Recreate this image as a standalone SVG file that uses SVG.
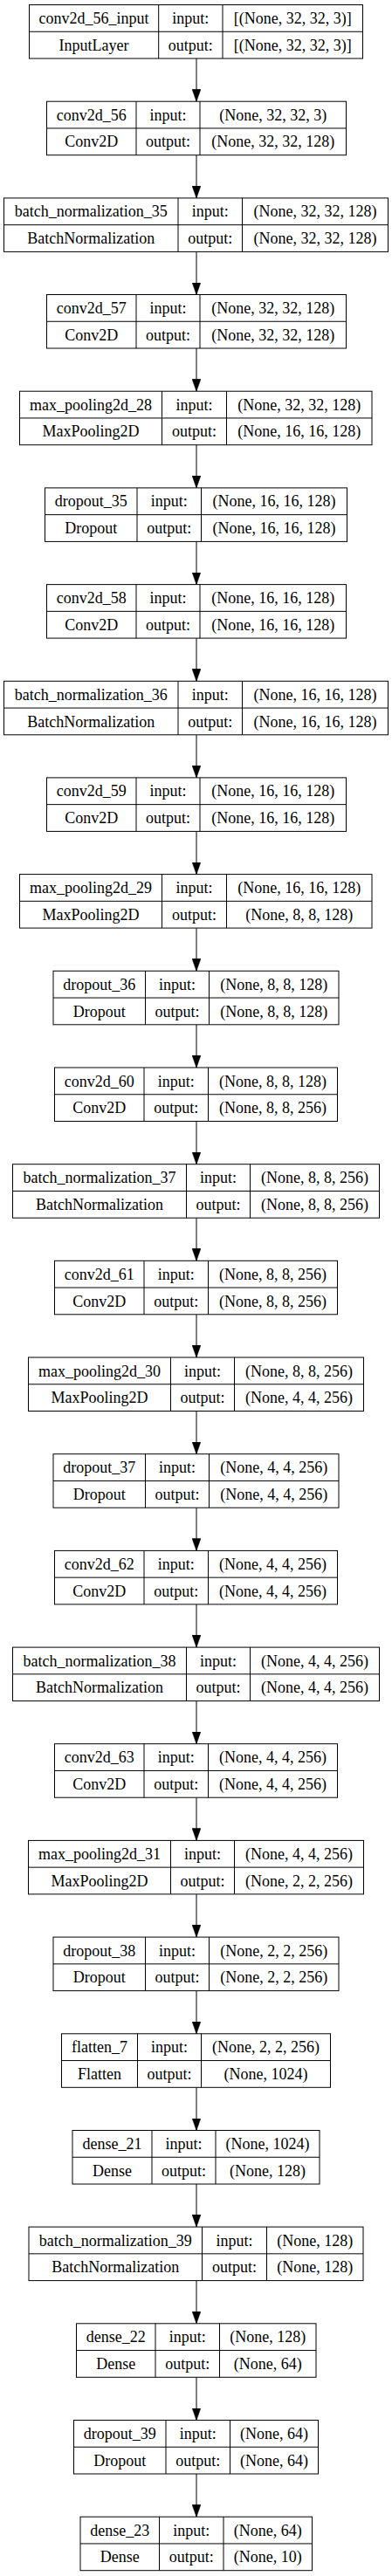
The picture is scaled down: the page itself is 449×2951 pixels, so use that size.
<svg xmlns="http://www.w3.org/2000/svg" width="449" height="2951" viewBox="0 0 449 2951">
<style>
.n rect{fill:#fff;stroke:#000;stroke-width:1}
.n path{fill:none;stroke:#000;stroke-width:1}
.n text{font-family:"Liberation Serif","Times New Roman",serif;font-size:18px;text-anchor:middle;fill:#000}
#edges path{fill:none;stroke:#000;stroke-width:1}
</style>
<defs>
<marker id="ah" markerUnits="userSpaceOnUse" markerWidth="14" markerHeight="10" viewBox="0 0 13.3 9.4" refX="13.3" refY="4.7" orient="auto"><path d="M0 0L13.3 4.7L0 9.4z" fill="#000" stroke="#000" stroke-width="0.5"/></marker>
</defs>
<rect width="449" height="2951" fill="#fff"/>
<g id="edges">
<path d="M225 67V116.2" marker-end="url(#ah)"/>
<path d="M225 177.7V226.9" marker-end="url(#ah)"/>
<path d="M225 288.4V337.5" marker-end="url(#ah)"/>
<path d="M225 399V448.2" marker-end="url(#ah)"/>
<path d="M225 509.7V558.9" marker-end="url(#ah)"/>
<path d="M225 620.4V669.6" marker-end="url(#ah)"/>
<path d="M225 731.1V780.3" marker-end="url(#ah)"/>
<path d="M225 841.8V890.9" marker-end="url(#ah)"/>
<path d="M225 952.4V1001.6" marker-end="url(#ah)"/>
<path d="M225 1063.1V1112.3" marker-end="url(#ah)"/>
<path d="M225 1173.8V1223" marker-end="url(#ah)"/>
<path d="M225 1284.5V1333.7" marker-end="url(#ah)"/>
<path d="M225 1395.2V1444.3" marker-end="url(#ah)"/>
<path d="M225 1505.8V1555" marker-end="url(#ah)"/>
<path d="M225 1616.5V1665.7" marker-end="url(#ah)"/>
<path d="M225 1727.2V1776.4" marker-end="url(#ah)"/>
<path d="M225 1837.9V1887.1" marker-end="url(#ah)"/>
<path d="M225 1948.6V1997.7" marker-end="url(#ah)"/>
<path d="M225 2059.2V2108.4" marker-end="url(#ah)"/>
<path d="M225 2169.9V2219.1" marker-end="url(#ah)"/>
<path d="M225 2280.6V2329.8" marker-end="url(#ah)"/>
<path d="M225 2391.3V2440.5" marker-end="url(#ah)"/>
<path d="M225 2502V2551.1" marker-end="url(#ah)"/>
<path d="M225 2612.6V2661.8" marker-end="url(#ah)"/>
<path d="M225 2723.3V2772.5" marker-end="url(#ah)"/>
<path d="M225 2834V2883.2" marker-end="url(#ah)"/>
</g>

<g id="conv2d_56_input" class="n" transform="translate(0,5.5)"><rect x="33.5" y="0" width="382" height="61.5"/><path d="M33.5 30.75H415.5M181.7 0V61.5M255 0V61.5"/><text x="107.6" y="21.5">conv2d_56_input</text><text x="107.6" y="52.3">InputLayer</text><text x="218.35" y="21.5">input:</text><text x="218.35" y="52.3">output:</text><text x="335.25" y="21.5">[(None, 32, 32, 3)]</text><text x="335.25" y="52.3">[(None, 32, 32, 3)]</text></g>

<g id="conv2d_56" class="n" transform="translate(0,116.2)"><rect x="53.5" y="0" width="343" height="61.5"/><path d="M53.5 30.75H396.5M156 0V61.5M229 0V61.5"/><text x="104.75" y="21.5">conv2d_56</text><text x="104.75" y="52.3">Conv2D</text><text x="192.5" y="21.5">input:</text><text x="192.5" y="52.3">output:</text><text x="312.75" y="21.5">(None, 32, 32, 3)</text><text x="312.75" y="52.3">(None, 32, 32, 128)</text></g>

<g id="batch_normalization_35" class="n" transform="translate(0,226.9)"><rect x="4.5" y="0" width="440" height="61.5"/><path d="M4.5 30.75H444.5M204 0V61.5M277.5 0V61.5"/><text x="104.25" y="21.5">batch_normalization_35</text><text x="104.25" y="52.3">BatchNormalization</text><text x="240.75" y="21.5">input:</text><text x="240.75" y="52.3">output:</text><text x="361" y="21.5">(None, 32, 32, 128)</text><text x="361" y="52.3">(None, 32, 32, 128)</text></g>

<g id="conv2d_57" class="n" transform="translate(0,337.5)"><rect x="53.5" y="0" width="343" height="61.5"/><path d="M53.5 30.75H396.5M156 0V61.5M229 0V61.5"/><text x="104.75" y="21.5">conv2d_57</text><text x="104.75" y="52.3">Conv2D</text><text x="192.5" y="21.5">input:</text><text x="192.5" y="52.3">output:</text><text x="312.75" y="21.5">(None, 32, 32, 128)</text><text x="312.75" y="52.3">(None, 32, 32, 128)</text></g>

<g id="max_pooling2d_28" class="n" transform="translate(0,448.2)"><rect x="22.5" y="0" width="403.5" height="61.5"/><path d="M22.5 30.75H426M185.5 0V61.5M259.5 0V61.5"/><text x="104" y="21.5">max_pooling2d_28</text><text x="104" y="52.3">MaxPooling2D</text><text x="222.5" y="21.5">input:</text><text x="222.5" y="52.3">output:</text><text x="342.75" y="21.5">(None, 32, 32, 128)</text><text x="342.75" y="52.3">(None, 16, 16, 128)</text></g>

<g id="dropout_35" class="n" transform="translate(0,558.9)"><rect x="51.5" y="0" width="346" height="61.5"/><path d="M51.5 30.75H397.5M157 0V61.5M230.5 0V61.5"/><text x="104.25" y="21.5">dropout_35</text><text x="104.25" y="52.3">Dropout</text><text x="193.75" y="21.5">input:</text><text x="193.75" y="52.3">output:</text><text x="314" y="21.5">(None, 16, 16, 128)</text><text x="314" y="52.3">(None, 16, 16, 128)</text></g>

<g id="conv2d_58" class="n" transform="translate(0,669.6)"><rect x="53.5" y="0" width="343" height="61.5"/><path d="M53.5 30.75H396.5M156 0V61.5M229 0V61.5"/><text x="104.75" y="21.5">conv2d_58</text><text x="104.75" y="52.3">Conv2D</text><text x="192.5" y="21.5">input:</text><text x="192.5" y="52.3">output:</text><text x="312.75" y="21.5">(None, 16, 16, 128)</text><text x="312.75" y="52.3">(None, 16, 16, 128)</text></g>

<g id="batch_normalization_36" class="n" transform="translate(0,780.3)"><rect x="4.5" y="0" width="440" height="61.5"/><path d="M4.5 30.75H444.5M204 0V61.5M277.5 0V61.5"/><text x="104.25" y="21.5">batch_normalization_36</text><text x="104.25" y="52.3">BatchNormalization</text><text x="240.75" y="21.5">input:</text><text x="240.75" y="52.3">output:</text><text x="361" y="21.5">(None, 16, 16, 128)</text><text x="361" y="52.3">(None, 16, 16, 128)</text></g>

<g id="conv2d_59" class="n" transform="translate(0,890.9)"><rect x="53.5" y="0" width="343" height="61.5"/><path d="M53.5 30.75H396.5M156 0V61.5M229 0V61.5"/><text x="104.75" y="21.5">conv2d_59</text><text x="104.75" y="52.3">Conv2D</text><text x="192.5" y="21.5">input:</text><text x="192.5" y="52.3">output:</text><text x="312.75" y="21.5">(None, 16, 16, 128)</text><text x="312.75" y="52.3">(None, 16, 16, 128)</text></g>

<g id="max_pooling2d_29" class="n" transform="translate(0,1001.6)"><rect x="22.5" y="0" width="403.5" height="61.5"/><path d="M22.5 30.75H426M185.5 0V61.5M259.5 0V61.5"/><text x="104" y="21.5">max_pooling2d_29</text><text x="104" y="52.3">MaxPooling2D</text><text x="222.5" y="21.5">input:</text><text x="222.5" y="52.3">output:</text><text x="342.75" y="21.5">(None, 16, 16, 128)</text><text x="342.75" y="52.3">(None, 8, 8, 128)</text></g>

<g id="dropout_36" class="n" transform="translate(0,1112.3)"><rect x="61" y="0" width="327" height="61.5"/><path d="M61 30.75H388M166.5 0V61.5M239.5 0V61.5"/><text x="113.75" y="21.5">dropout_36</text><text x="113.75" y="52.3">Dropout</text><text x="203" y="21.5">input:</text><text x="203" y="52.3">output:</text><text x="313.75" y="21.5">(None, 8, 8, 128)</text><text x="313.75" y="52.3">(None, 8, 8, 128)</text></g>

<g id="conv2d_60" class="n" transform="translate(0,1223)"><rect x="62.5" y="0" width="324" height="61.5"/><path d="M62.5 30.75H386.5M165 0V61.5M238.5 0V61.5"/><text x="113.75" y="21.5">conv2d_60</text><text x="113.75" y="52.3">Conv2D</text><text x="201.75" y="21.5">input:</text><text x="201.75" y="52.3">output:</text><text x="312.5" y="21.5">(None, 8, 8, 128)</text><text x="312.5" y="52.3">(None, 8, 8, 256)</text></g>

<g id="batch_normalization_37" class="n" transform="translate(0,1333.7)"><rect x="14.5" y="0" width="420" height="61.5"/><path d="M14.5 30.75H434.5M213.5 0V61.5M286.5 0V61.5"/><text x="114" y="21.5">batch_normalization_37</text><text x="114" y="52.3">BatchNormalization</text><text x="250" y="21.5">input:</text><text x="250" y="52.3">output:</text><text x="360.5" y="21.5">(None, 8, 8, 256)</text><text x="360.5" y="52.3">(None, 8, 8, 256)</text></g>

<g id="conv2d_61" class="n" transform="translate(0,1444.3)"><rect x="62.5" y="0" width="324" height="61.5"/><path d="M62.5 30.75H386.5M165 0V61.5M238.5 0V61.5"/><text x="113.75" y="21.5">conv2d_61</text><text x="113.75" y="52.3">Conv2D</text><text x="201.75" y="21.5">input:</text><text x="201.75" y="52.3">output:</text><text x="312.5" y="21.5">(None, 8, 8, 256)</text><text x="312.5" y="52.3">(None, 8, 8, 256)</text></g>

<g id="max_pooling2d_30" class="n" transform="translate(0,1555)"><rect x="32.5" y="0" width="384" height="61.5"/><path d="M32.5 30.75H416.5M195.5 0V61.5M268.5 0V61.5"/><text x="114" y="21.5">max_pooling2d_30</text><text x="114" y="52.3">MaxPooling2D</text><text x="232" y="21.5">input:</text><text x="232" y="52.3">output:</text><text x="342.5" y="21.5">(None, 8, 8, 256)</text><text x="342.5" y="52.3">(None, 4, 4, 256)</text></g>

<g id="dropout_37" class="n" transform="translate(0,1665.7)"><rect x="61" y="0" width="327" height="61.5"/><path d="M61 30.75H388M166.5 0V61.5M239.5 0V61.5"/><text x="113.75" y="21.5">dropout_37</text><text x="113.75" y="52.3">Dropout</text><text x="203" y="21.5">input:</text><text x="203" y="52.3">output:</text><text x="313.75" y="21.5">(None, 4, 4, 256)</text><text x="313.75" y="52.3">(None, 4, 4, 256)</text></g>

<g id="conv2d_62" class="n" transform="translate(0,1776.4)"><rect x="62.5" y="0" width="324" height="61.5"/><path d="M62.5 30.75H386.5M165 0V61.5M238.5 0V61.5"/><text x="113.75" y="21.5">conv2d_62</text><text x="113.75" y="52.3">Conv2D</text><text x="201.75" y="21.5">input:</text><text x="201.75" y="52.3">output:</text><text x="312.5" y="21.5">(None, 4, 4, 256)</text><text x="312.5" y="52.3">(None, 4, 4, 256)</text></g>

<g id="batch_normalization_38" class="n" transform="translate(0,1887.1)"><rect x="14.5" y="0" width="420" height="61.5"/><path d="M14.5 30.75H434.5M213.5 0V61.5M286.5 0V61.5"/><text x="114" y="21.5">batch_normalization_38</text><text x="114" y="52.3">BatchNormalization</text><text x="250" y="21.5">input:</text><text x="250" y="52.3">output:</text><text x="360.5" y="21.5">(None, 4, 4, 256)</text><text x="360.5" y="52.3">(None, 4, 4, 256)</text></g>

<g id="conv2d_63" class="n" transform="translate(0,1997.7)"><rect x="62.5" y="0" width="324" height="61.5"/><path d="M62.5 30.75H386.5M165 0V61.5M238.5 0V61.5"/><text x="113.75" y="21.5">conv2d_63</text><text x="113.75" y="52.3">Conv2D</text><text x="201.75" y="21.5">input:</text><text x="201.75" y="52.3">output:</text><text x="312.5" y="21.5">(None, 4, 4, 256)</text><text x="312.5" y="52.3">(None, 4, 4, 256)</text></g>

<g id="max_pooling2d_31" class="n" transform="translate(0,2108.4)"><rect x="32.5" y="0" width="384" height="61.5"/><path d="M32.5 30.75H416.5M195.5 0V61.5M268.5 0V61.5"/><text x="114" y="21.5">max_pooling2d_31</text><text x="114" y="52.3">MaxPooling2D</text><text x="232" y="21.5">input:</text><text x="232" y="52.3">output:</text><text x="342.5" y="21.5">(None, 4, 4, 256)</text><text x="342.5" y="52.3">(None, 2, 2, 256)</text></g>

<g id="dropout_38" class="n" transform="translate(0,2219.1)"><rect x="61" y="0" width="327" height="61.5"/><path d="M61 30.75H388M166.5 0V61.5M239.5 0V61.5"/><text x="113.75" y="21.5">dropout_38</text><text x="113.75" y="52.3">Dropout</text><text x="203" y="21.5">input:</text><text x="203" y="52.3">output:</text><text x="313.75" y="21.5">(None, 2, 2, 256)</text><text x="313.75" y="52.3">(None, 2, 2, 256)</text></g>

<g id="flatten_7" class="n" transform="translate(0,2329.8)"><rect x="70.5" y="0" width="308" height="61.5"/><path d="M70.5 30.75H378.5M157.5 0V61.5M230.5 0V61.5"/><text x="114" y="21.5">flatten_7</text><text x="114" y="52.3">Flatten</text><text x="194" y="21.5">input:</text><text x="194" y="52.3">output:</text><text x="304.5" y="21.5">(None, 2, 2, 256)</text><text x="304.5" y="52.3">(None, 1024)</text></g>

<g id="dense_21" class="n" transform="translate(0,2440.5)"><rect x="83" y="0" width="283" height="61.5"/><path d="M83 30.75H366M174 0V61.5M247 0V61.5"/><text x="128.5" y="21.5">dense_21</text><text x="128.5" y="52.3">Dense</text><text x="210.5" y="21.5">input:</text><text x="210.5" y="52.3">output:</text><text x="306.5" y="21.5">(None, 1024)</text><text x="306.5" y="52.3">(None, 128)</text></g>

<g id="batch_normalization_39" class="n" transform="translate(0,2551.1)"><rect x="33" y="0" width="383" height="61.5"/><path d="M33 30.75H416M231.5 0V61.5M305.5 0V61.5"/><text x="132.25" y="21.5">batch_normalization_39</text><text x="132.25" y="52.3">BatchNormalization</text><text x="268.5" y="21.5">input:</text><text x="268.5" y="52.3">output:</text><text x="360.75" y="21.5">(None, 128)</text><text x="360.75" y="52.3">(None, 128)</text></g>

<g id="dense_22" class="n" transform="translate(0,2661.8)"><rect x="87.5" y="0" width="274.5" height="61.5"/><path d="M87.5 30.75H362M178 0V61.5M251.5 0V61.5"/><text x="132.75" y="21.5">dense_22</text><text x="132.75" y="52.3">Dense</text><text x="214.75" y="21.5">input:</text><text x="214.75" y="52.3">output:</text><text x="306.75" y="21.5">(None, 128)</text><text x="306.75" y="52.3">(None, 64)</text></g>

<g id="dropout_39" class="n" transform="translate(0,2772.5)"><rect x="84.5" y="0" width="280" height="61.5"/><path d="M84.5 30.75H364.5M190 0V61.5M263.5 0V61.5"/><text x="137.25" y="21.5">dropout_39</text><text x="137.25" y="52.3">Dropout</text><text x="226.75" y="21.5">input:</text><text x="226.75" y="52.3">output:</text><text x="314" y="21.5">(None, 64)</text><text x="314" y="52.3">(None, 64)</text></g>

<g id="dense_23" class="n" transform="translate(0,2883.2)"><rect x="92" y="0" width="265.5" height="61.5"/><path d="M92 30.75H357.5M182.5 0V61.5M256 0V61.5"/><text x="137.25" y="21.5">dense_23</text><text x="137.25" y="52.3">Dense</text><text x="219.25" y="21.5">input:</text><text x="219.25" y="52.3">output:</text><text x="306.75" y="21.5">(None, 64)</text><text x="306.75" y="52.3">(None, 10)</text></g>
</svg>
